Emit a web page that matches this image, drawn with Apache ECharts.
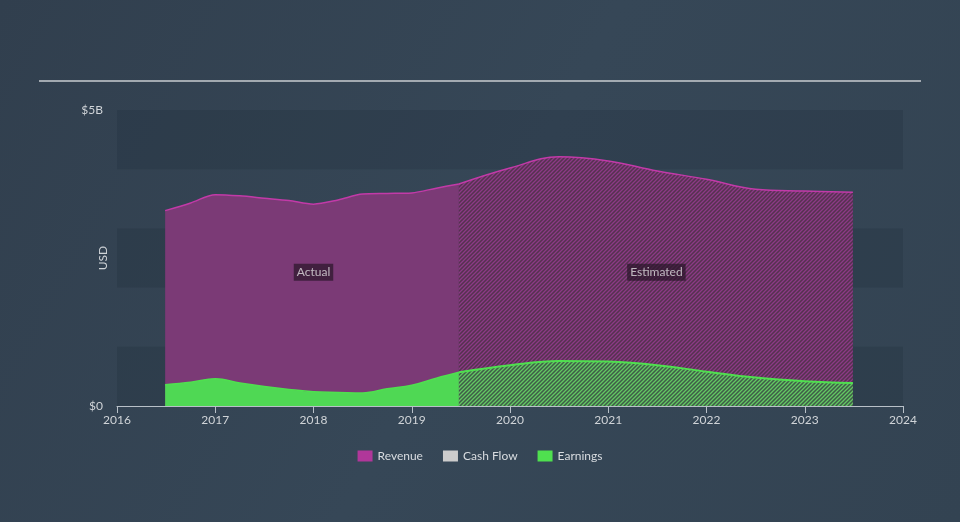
<!DOCTYPE html>
<html>
<head>
<meta charset="utf-8">
<script src="https://cdn.jsdelivr.net/npm/echarts@6/dist/echarts.min.js"></script>
<style>
html,body{margin:0;padding:0;background:#354555;}
#c{width:960px;height:522px;}
</style>
</head>
<body>
<div id="c"></div>
<script>
const xTicks = [2016, 2017, 2018, 2019, 2020, 2021, 2022, 2023, 2024];
const actualYears = [2016.49, 2016.75, 2017.0, 2017.25, 2017.5, 2017.75, 2018.0, 2018.25, 2018.5, 2018.75, 2019.0, 2019.25, 2019.48];
const revenueActual = [3.30, 3.43, 3.57, 3.55, 3.51, 3.47, 3.41, 3.48, 3.58, 3.59, 3.60, 3.68, 3.75];
const earningsActual = [0.36, 0.40, 0.46, 0.39, 0.33, 0.28, 0.24, 0.23, 0.22, 0.29, 0.35, 0.47, 0.57];
const estimateYears = [2019.48, 2020.0, 2020.5, 2021.0, 2021.5, 2022.0, 2022.5, 2023.0, 2023.49];
const revenueEstimate = [3.75, 4.02, 4.21, 4.14, 3.97, 3.83, 3.66, 3.63, 3.61];
const earningsEstimate = [0.57, 0.69, 0.76, 0.75, 0.69, 0.58, 0.48, 0.42, 0.39];
const cashFlow = [];
const regionLabels = ['Actual', 'Estimated'];
const regionLabelX = [2018.0, 2021.49];
const regionLabelY = 2.26;

function zip(xs, ys) { return xs.map((x, i) => [x, ys[i]]); }

function hatch(bg, fg) {
  const s = 4;
  const c = document.createElement('canvas');
  c.width = s; c.height = s;
  const g = c.getContext('2d');
  g.fillStyle = bg; g.fillRect(0, 0, s, s);
  g.strokeStyle = fg; g.lineWidth = 1.3;
  g.beginPath();
  g.moveTo(-1, s + 1); g.lineTo(s + 1, -1);
  g.moveTo(-1, 1); g.lineTo(1, -1);
  g.moveTo(s - 1, s + 1); g.lineTo(s + 1, s - 1);
  g.stroke();
  return { image: c, repeat: 'repeat' };
}

const chart = echarts.init(document.getElementById('c'), null, { renderer: 'canvas' });
const font = 'Lato, "Open Sans", sans-serif';
const revLine = '#c23aa8';
const revFill = '#7b3a76';
const earnLine = '#4fe04f';
const earnFill = '#4fd854';

chart.setOption({
  backgroundColor: {
    type: 'linear', x: 0, y: 0, x2: 1, y2: 1,
    colorStops: [{ offset: 0, color: '#313f4e' }, { offset: 0.5, color: '#364757' }, { offset: 1, color: '#334352' }]
  },
  animation: false,
  textStyle: { fontFamily: font },
  grid: { left: 117, right: 57, top: 110, bottom: 116 },
  graphic: [{
    type: 'line', shape: { x1: 39, y1: 81, x2: 921, y2: 81 },
    style: { stroke: '#c9cdd1', lineWidth: 1.5 }
  }, {
    type: 'text', x: 103, y: 258, rotation: Math.PI / 2,
    style: { text: 'USD', fill: '#d0d4d8', font: '12px ' + font, align: 'center', verticalAlign: 'middle' }
  }],
  legend: {
    top: 445, left: 'center', itemWidth: 15, itemHeight: 11, itemGap: 20,
    icon: 'rect',
    textStyle: { color: '#d8dce0', fontSize: 12, fontFamily: font },
    data: [
      { name: 'Revenue', itemStyle: { color: '#b0379a' } },
      { name: 'Cash Flow', itemStyle: { color: '#cccccc' } },
      { name: 'Earnings', itemStyle: { color: earnLine } }
    ],
    selectedMode: false
  },
  xAxis: {
    type: 'value', min: xTicks[0], max: xTicks[xTicks.length - 1], interval: 1,
    axisLine: { show: true, lineStyle: { color: '#b8c0c8', width: 1 } },
    axisTick: { show: true, length: 7, lineStyle: { color: '#b8c0c8' } },
    axisLabel: { color: '#d0d4d8', fontSize: 12, margin: 8, formatter: v => String(v) },
    splitLine: { show: false }
  },
  yAxis: {
    type: 'value', min: 0, max: 5, interval: 1,
    axisLine: { show: false }, axisTick: { show: false },
    axisLabel: {
      color: '#d0d4d8', fontSize: 12, margin: 14,
      formatter: v => (v === 0 ? '$0' : (v === 5 ? '$5B' : '')),
      verticalAlign: 'middle', padding: [0, 0, 10, 0]
    },
    splitLine: { show: false },
    splitArea: { show: true, areaStyle: { color: ['rgba(20,30,42,0.16)', 'rgba(0,0,0,0)'] } }
  },
  series: [
    {
      name: 'Revenue', type: 'line', data: zip(actualYears, revenueActual),
      smooth: 0.3, symbol: 'none', lineStyle: { color: revLine, width: 1.5 },
      itemStyle: { color: revLine }, areaStyle: { color: revFill, opacity: 1 }, z: 2
    },
    {
      name: 'Revenue', type: 'line', data: zip(estimateYears, revenueEstimate),
      smooth: 0.4, symbol: 'none', lineStyle: { color: revLine, width: 1.5 },
      itemStyle: { color: revLine }, areaStyle: { color: hatch('#55324f', '#8c3a86'), opacity: 1 }, z: 2
    },
    {
      name: 'Cash Flow', type: 'line', data: cashFlow, symbol: 'none',
      itemStyle: { color: '#cccccc' }
    },
    {
      name: 'Earnings', type: 'line', data: zip(actualYears, earningsActual),
      smooth: 0.4, symbol: 'none', lineStyle: { color: earnLine, width: 1.5 },
      itemStyle: { color: earnLine }, areaStyle: { color: earnFill, opacity: 1 }, z: 3
    },
    {
      name: 'Earnings', type: 'line', data: zip(estimateYears, earningsEstimate),
      smooth: 0.4, symbol: 'none', lineStyle: { color: earnLine, width: 2 },
      itemStyle: { color: earnLine }, areaStyle: { color: hatch('#3f5c48', '#63c863'), opacity: 1 }, z: 3
    },
    {
      name: 'labels', type: 'scatter', symbolSize: 0, z: 5,
      data: regionLabels.map((t, i) => ({ value: [regionLabelX[i], regionLabelY], label: { formatter: t } })),
      label: {
        show: true, position: 'inside', color: '#e0dde0', fontSize: 12,
        backgroundColor: 'rgba(38,20,38,0.85)', padding: [3, 3, 2, 3]
      },
      silent: true
    }
  ]
});
</script>
</body>
</html>
